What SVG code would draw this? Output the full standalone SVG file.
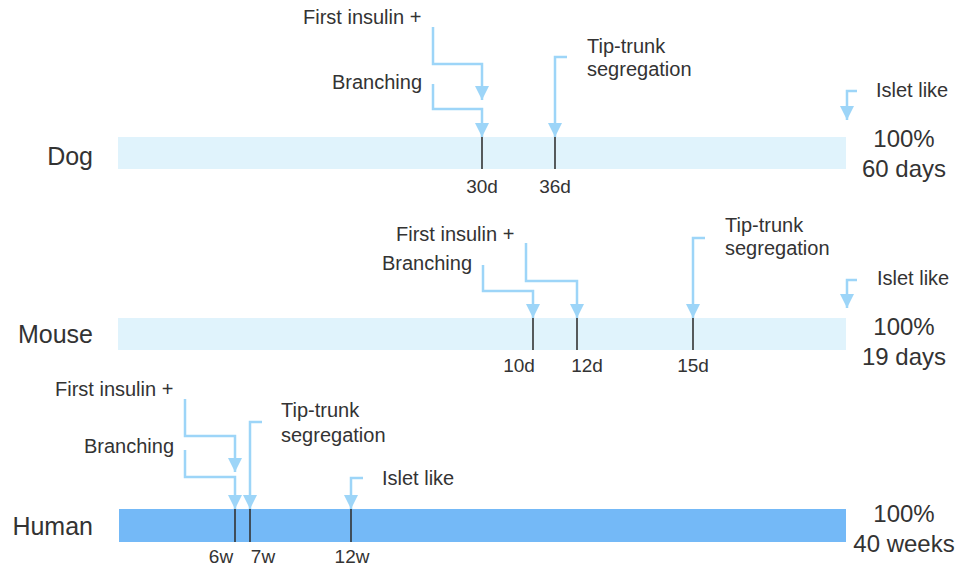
<svg xmlns="http://www.w3.org/2000/svg" width="963" height="569" viewBox="0 0 963 569">
<defs>
<marker id="ah" viewBox="0 0 14 14" refX="14" refY="7" markerWidth="14" markerHeight="14" markerUnits="userSpaceOnUse" orient="auto">
<path d="M0,0 L14,7 L0,14 z" fill="#9dd5f8"/>
</marker>
<style>
text{font-family:"Liberation Sans",Arial,sans-serif;fill:#333}
.lbl{font-size:20px}
.sp{font-size:25px;text-anchor:end}
.tk{font-size:19px;text-anchor:middle}
.tot{font-size:24px;text-anchor:middle}
.arr{fill:none;stroke:#9dd5f8;stroke-width:2.5;marker-end:url(#ah)}
.tick{stroke:#333;stroke-width:1.6}
.barL{fill:#e0f3fc}
.barH{fill:#74b9f7}
</style>
</defs>
<rect width="963" height="569" fill="#fff"/>

<g id="dog">
<rect class="barL" x="118" y="137" width="728" height="32"/>
<text class="sp" x="93" y="165">Dog</text>
<line class="tick" x1="482" y1="137" x2="482" y2="169"/>
<line class="tick" x1="555" y1="137" x2="555" y2="169"/>
<text class="tk" x="482" y="193">30d</text>
<text class="tk" x="555" y="193">36d</text>
<text class="lbl" x="303" y="24">First insulin +</text>
<text class="lbl" x="332" y="89">Branching</text>
<text class="lbl" x="587" y="53">Tip-trunk</text>
<text class="lbl" x="587" y="76">segregation</text>
<text class="lbl" x="876" y="97">Islet like</text>
<text class="tot" x="904" y="147">100%</text>
<text class="tot" x="904" y="177">60 days</text>
</g>

<g id="mouse">
<rect class="barL" x="118" y="318" width="728" height="32"/>
<text class="sp" x="93" y="343">Mouse</text>
<line class="tick" x1="533" y1="318" x2="533" y2="350"/>
<line class="tick" x1="577" y1="318" x2="577" y2="350"/>
<line class="tick" x1="693" y1="318" x2="693" y2="350"/>
<text class="tk" x="519" y="372">10d</text>
<text class="tk" x="587" y="372">12d</text>
<text class="tk" x="693" y="372">15d</text>
<text class="lbl" x="396" y="241">First insulin +</text>
<text class="lbl" x="382" y="270">Branching</text>
<text class="lbl" x="725" y="232">Tip-trunk</text>
<text class="lbl" x="725" y="255">segregation</text>
<text class="lbl" x="877" y="285">Islet like</text>
<text class="tot" x="904" y="335">100%</text>
<text class="tot" x="904" y="365">19 days</text>
</g>

<g id="human">
<rect class="barH" x="119" y="509" width="727" height="33"/>
<text class="sp" x="93" y="535">Human</text>
<line class="tick" x1="235" y1="509" x2="235" y2="542"/>
<line class="tick" x1="250" y1="509" x2="250" y2="542"/>
<line class="tick" x1="351" y1="509" x2="351" y2="542"/>
<text class="tk" x="221" y="563">6w</text>
<text class="tk" x="263" y="563">7w</text>
<text class="tk" x="352" y="563">12w</text>
<text class="lbl" x="55" y="396">First insulin +</text>
<text class="lbl" x="84" y="453">Branching</text>
<text class="lbl" x="281" y="417">Tip-trunk</text>
<text class="lbl" x="281" y="442">segregation</text>
<text class="lbl" x="382" y="485">Islet like</text>
<text class="tot" x="904" y="522">100%</text>
<text class="tot" x="904" y="552">40 weeks</text>
</g>

<g id="connectors">
<path class="arr" d="M433,27 V64 H482 V100"/>
<path class="arr" d="M433,84 V109 H482 V137"/>
<path class="arr" d="M567,57 H555 V137"/>
<path class="arr" d="M857,91 H847 V120"/>
<path class="arr" d="M483,265 V291 H533 V318"/>
<path class="arr" d="M526,243 V281 H577 V318"/>
<path class="arr" d="M705,238 H693 V318"/>
<path class="arr" d="M857,280 H847 V308"/>
<path class="arr" d="M185,399 V436 H235 V472"/>
<path class="arr" d="M185,450 V477 H235 V509"/>
<path class="arr" d="M262,422 H250 V509"/>
<path class="arr" d="M363,478 H351 V509"/>
</g>
</svg>
